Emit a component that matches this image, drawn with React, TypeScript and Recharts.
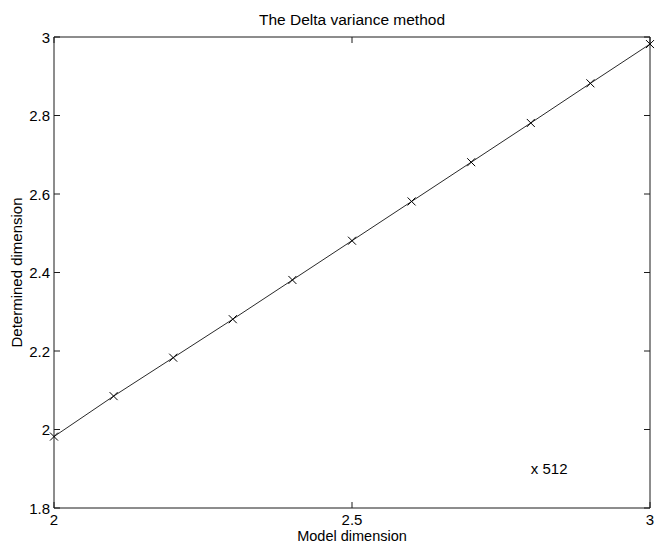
import { LineChart, Line, XAxis, YAxis, ReferenceArea, ReferenceDot } from 'recharts';

// model dimension (x) vs. determined dimension (y), 512 samples each
const modelDimension = [2, 2.1, 2.2, 2.3, 2.4, 2.5, 2.6, 2.7, 2.8, 2.9, 3];
const determinedDimension = [1.982, 2.085, 2.183, 2.281, 2.381, 2.481, 2.581, 2.681, 2.781, 2.882, 2.982];

const xTicks = [2, 2.5, 3];
const yTicks = [1.8, 2, 2.2, 2.4, 2.6, 2.8, 3];

const annotation = { x: 2.8, y: 1.9, text: 'x 512' };
const title = 'The Delta variance method';
const xLabel = 'Model dimension';
const yLabel = 'Determined dimension';

const W = 655;
const H = 544;
const plot = { left: 54, top: 37, right: 650, bottom: 508 };
const FONT = '"Liberation Sans", Arial, Helvetica, sans-serif';
const INK = '#1a1a1a';
const TICK = 6;
const FS = 15;

const data = modelDimension.map((x, i) => ({ x, y: determinedDimension[i] }));

const YTick = (props: any) => {
  const { y, payload } = props;
  return (
    <g>
      <line x1={plot.left} x2={plot.left + TICK} y1={y} y2={y} stroke={INK} />
      <line x1={plot.right - TICK} x2={plot.right} y1={y} y2={y} stroke={INK} />
      <text x={plot.left - 4} y={y} textAnchor="end" dominantBaseline="central"
        fontSize={FS} fontFamily={FONT} fill="#000">
        {String(payload.value)}
      </text>
    </g>
  );
};

const XTick = (props: any) => {
  const { x, payload } = props;
  return (
    <g>
      <line x1={x} x2={x} y1={plot.bottom} y2={plot.bottom - TICK} stroke={INK} />
      <line x1={x} x2={x} y1={plot.top} y2={plot.top + TICK} stroke={INK} />
      <text x={x} y={plot.bottom + 11} textAnchor="middle" dominantBaseline="central"
        fontSize={FS} fontFamily={FONT} fill="#000">
        {String(payload.value)}
      </text>
    </g>
  );
};

const CrossDot = (props: any) => {
  const { cx, cy } = props;
  if (cx == null || cy == null) return null;
  const s = 4;
  return (
    <g>
      <line x1={cx - s} y1={cy - s} x2={cx + s} y2={cy + s} stroke="#000" strokeWidth={1} />
      <line x1={cx - s} y1={cy + s} x2={cx + s} y2={cy - s} stroke="#000" strokeWidth={1} />
    </g>
  );
};

export default function App() {
  return (
    <div style={{ position: 'absolute', left: 0, top: 0, width: W, height: H, overflow: 'hidden', background: '#fff' }}>
      <LineChart
        width={W}
        height={H}
        data={data}
        margin={{ top: plot.top, left: 0, right: W - plot.right, bottom: 0 }}
      >
        <ReferenceArea x1={2} x2={3} y1={1.8} y2={3} fill="none" fillOpacity={0} stroke={INK} strokeOpacity={1} />
        <XAxis
          type="number"
          dataKey="x"
          domain={[2, 3]}
          ticks={xTicks}
          interval={0}
          height={H - plot.bottom}
          axisLine={false}
          tickLine={false}
          tick={XTick}
        />
        <YAxis
          type="number"
          domain={[1.8, 3]}
          ticks={yTicks}
          interval={0}
          width={plot.left}
          axisLine={false}
          tickLine={false}
          tick={YTick}
        />
        <Line
          type="linear"
          dataKey="y"
          stroke="#111"
          strokeWidth={0.9}
          dot={<CrossDot />}
          activeDot={false}
          isAnimationActive={false}
        />
        <ReferenceDot
          x={annotation.x}
          y={annotation.y}
          r={0}
          shape={(p: any) => (
            <text x={p.cx} y={p.cy} dominantBaseline="central" fontSize={FS} fontFamily={FONT} fill="#000">
              {annotation.text}
            </text>
          )}
        />
      </LineChart>
      <svg width={W} height={H} style={{ position: 'absolute', left: 0, top: 0, pointerEvents: 'none' }}>
        <text x={(plot.left + plot.right) / 2} y={19} textAnchor="middle" dominantBaseline="central"
          fontSize={15.5} fontFamily={FONT} fill="#000">{title}</text>
        <text x={(plot.left + plot.right) / 2} y={535.5} textAnchor="middle" dominantBaseline="central"
          fontSize={14.5} fontFamily={FONT} fill="#000">{xLabel}</text>
        <text x={16} y={(plot.top + plot.bottom) / 2} textAnchor="middle" dominantBaseline="central"
          transform={`rotate(-90 16 ${(plot.top + plot.bottom) / 2})`}
          fontSize={FS} fontFamily={FONT} fill="#000">{yLabel}</text>
      </svg>
    </div>
  );
}
